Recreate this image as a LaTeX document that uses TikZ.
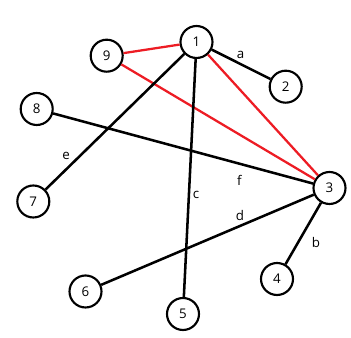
\documentclass[tikz,border=0pt]{standalone}
\usepackage{fontspec}
\setmainfont{Open Sans}
\definecolor{pred}{RGB}{237,28,36}
\begin{document}
\begin{tikzpicture}[x=0.75pt,y=-0.75pt,
  vert/.style={circle,draw=black,line width=1.6pt,fill=white,minimum size=32*0.75pt,inner sep=0pt,font=\fontsize{10}{12}\selectfont},
  blk/.style={draw=black,line width=1.9pt},
  rd/.style={draw=pred,line width=1.7pt},
  lbl/.style={font=\fontsize{10}{12}\selectfont,inner sep=0pt}]
\useasboundingbox (0,0) rectangle (351,338);
\node[vert] (n1) at (196.5,42) {1};
\node[vert] (n9) at (106.7,55.7) {9};
\node[vert] (n2) at (285.7,86.7) {2};
\node[vert] (n8) at (36.7,109) {8};
\node[vert] (n3) at (329.5,188) {3};
\node[vert] (n7) at (33.3,201.5) {7};
\node[vert] (n4) at (277,279) {4};
\node[vert] (n6) at (85.5,291.5) {6};
\node[vert] (n5) at (183,314) {5};
\begin{scope}[on background layer/.style={}]
\end{scope}
\draw[rd] (n1) -- (n9);
\draw[rd] (n1) -- (n3);
\draw[rd] (n9) -- (n3);
\draw[blk] (n1) -- (n2);
\draw[blk] (n1) -- (n7);
\draw[blk] (n1) -- (n5);
\draw[blk] (n8) -- (n3);
\draw[blk] (n6) -- (n3);
\draw[blk] (n3) -- (n4);
\node[lbl] (la) at (240.7,55) {a};
\node[lbl] (lb) at (316,243) {b};
\node[lbl] (lc) at (196,195) {c};
\node[lbl] (ld) at (240,216) {d};
\node[lbl] (le) at (66,156) {e};
\node[lbl] (lf) at (239.3,180.7) {f};
\end{tikzpicture}
\end{document}
